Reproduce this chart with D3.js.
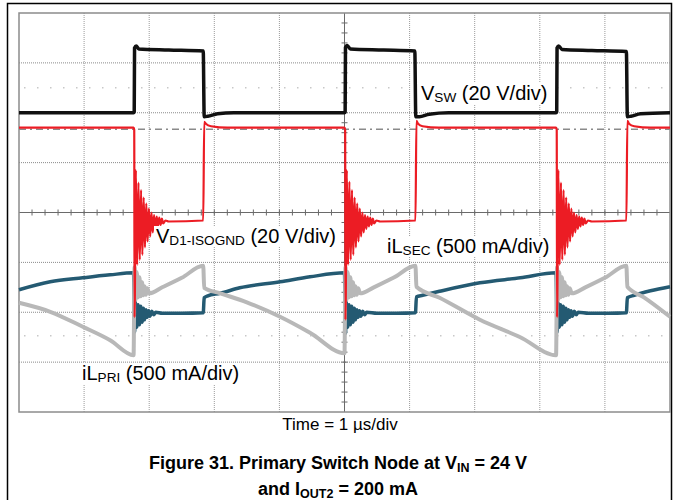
<!DOCTYPE html>
<html><head><meta charset="utf-8">
<script src="https://cdn.jsdelivr.net/npm/d3@7"></script>
<style>
html,body{margin:0;padding:0;background:#fff;}
svg{display:block;font-family:"Liberation Sans",Arial,sans-serif;}
</style></head>
<body>
<svg id="c" width="673" height="500"></svg>
<script>
// ---- data (time in divisions 0..10, amplitude in divisions -4..4) ----
const xDivisions = d3.range(0, 11);
const yDivisions = d3.range(-4, 5);

// V_SW (20 V/div)
const vswTrace = [
  [0,2.0],[1.76,2.0],[1.77,2.02],[1.775,3.30],[1.80,3.34],[1.84,3.28],[2.3,3.26],[2.83,3.24],
  [2.845,1.92],[2.9,1.93],[3.05,1.98],[3.3,2.0],[5.0,2.0],[5.01,2.02],[5.015,3.31],[5.04,3.35],
  [5.09,3.28],[5.6,3.26],[6.08,3.24],[6.095,1.92],[6.15,1.92],[6.3,1.97],[6.6,2.0],[8.25,2.0],
  [8.26,2.02],[8.265,3.30],[8.29,3.34],[8.34,3.27],[8.8,3.25],[9.33,3.23],[9.345,1.92],[9.4,1.93],
  [9.55,1.98],[10,2.0]
];

// V_D1-ISOGND (20 V/div)
const vd1Trace = [
  [0,1.70],[1.76,1.70],[1.77,1.66],[1.775,-2.1],[1.795,0.85],[1.815,-1.05],[1.835,0.6],[1.855,-0.95],
  [1.875,0.45],[1.895,-0.85],[1.915,0.3],[1.935,-0.7],[1.955,0.18],[1.975,-0.58],[1.995,0.08],[2.015,-0.48],
  [2.035,0.0],[2.055,-0.4],[2.075,-0.05],[2.095,-0.33],[2.115,-0.08],[2.135,-0.28],[2.155,-0.1],[2.175,-0.25],
  [2.195,-0.12],[2.215,-0.22],[2.25,-0.16],[2.3,-0.18],[2.83,-0.16],[2.845,1.82],[2.87,1.78],[2.95,1.73],[3.2,1.70],
  [5.0,1.70],[5.01,1.66],[5.015,-2.15],[5.035,0.85],[5.055,-1.05],[5.075,0.62],[5.095,-0.95],[5.115,0.45],
  [5.135,-0.85],[5.155,0.3],[5.175,-0.7],[5.195,0.18],[5.215,-0.58],[5.235,0.08],[5.255,-0.48],[5.275,0.0],
  [5.295,-0.4],[5.315,-0.05],[5.335,-0.33],[5.355,-0.08],[5.375,-0.28],[5.395,-0.1],[5.415,-0.25],[5.435,-0.12],
  [5.455,-0.22],[5.49,-0.16],[5.55,-0.18],[6.09,-0.16],[6.105,1.84],[6.13,1.78],[6.2,1.73],[6.45,1.70],
  [8.25,1.70],[8.26,1.66],[8.265,-2.1],[8.285,0.85],[8.305,-1.05],[8.325,0.6],[8.345,-0.95],[8.365,0.45],
  [8.385,-0.85],[8.405,0.3],[8.425,-0.7],[8.445,0.18],[8.465,-0.58],[8.485,0.08],[8.505,-0.48],[8.525,0.0],
  [8.545,-0.4],[8.565,-0.05],[8.585,-0.33],[8.605,-0.08],[8.625,-0.28],[8.645,-0.1],[8.665,-0.25],[8.685,-0.12],
  [8.705,-0.22],[8.74,-0.16],[8.8,-0.18],[9.33,-0.16],[9.345,1.84],[9.37,1.78],[9.45,1.73],[9.7,1.70],[10,1.70]
];

// iL_SEC (500 mA/div)
const ilSecTrace = [
  [0,-1.55],[0.48,-1.39],[0.98,-1.31],[1.4,-1.25],[1.76,-1.21],
  [1.775,-2.4],[1.79,-1.8],[1.81,-2.3],[1.83,-1.85],[1.85,-2.25],[1.87,-1.88],[1.89,-2.2],[1.91,-1.92],
  [1.93,-2.15],[1.95,-1.95],[1.97,-2.1],[1.99,-1.97],[2.01,-2.08],[2.04,-1.98],[2.07,-2.05],[2.1,-2.0],
  [2.2,-2.02],[2.5,-2.02],[2.83,-2.01],
  [2.845,-1.71],[2.9,-1.67],[3.09,-1.62],[3.39,-1.51],[4.01,-1.39],[4.47,-1.29],[5.0,-1.21],
  [5.015,-2.42],[5.03,-1.8],[5.05,-2.3],[5.07,-1.85],[5.09,-2.25],[5.11,-1.88],[5.13,-2.2],[5.15,-1.92],
  [5.17,-2.15],[5.19,-1.95],[5.21,-2.1],[5.23,-1.97],[5.25,-2.08],[5.28,-1.98],[5.31,-2.05],[5.34,-2.0],
  [5.5,-2.02],[5.8,-2.02],[6.09,-2.01],
  [6.105,-1.69],[6.2,-1.66],[6.46,-1.58],[7.08,-1.41],[7.70,-1.31],[8.25,-1.21],
  [8.265,-2.4],[8.28,-1.8],[8.30,-2.3],[8.32,-1.85],[8.34,-2.25],[8.36,-1.88],[8.38,-2.2],[8.40,-1.92],
  [8.42,-2.15],[8.44,-1.95],[8.46,-2.1],[8.48,-1.97],[8.50,-2.08],[8.53,-1.98],[8.56,-2.05],[8.59,-2.0],
  [8.75,-2.02],[9.05,-2.02],[9.33,-2.01],
  [9.345,-1.71],[9.45,-1.66],[9.7,-1.57],[10,-1.49]
];

// iL_PRI (500 mA/div)
const ilPriTrace = [
  [0,-1.81],[0.48,-1.99],[0.98,-2.29],[1.4,-2.56],[1.76,-2.86],
  [1.775,-1.1],[1.79,-1.75],[1.81,-1.2],[1.83,-1.7],[1.85,-1.3],[1.87,-1.68],[1.89,-1.4],[1.91,-1.66],
  [1.93,-1.48],[1.95,-1.65],[1.97,-1.52],[2.0,-1.62],[2.2,-1.50],[2.5,-1.31],[2.83,-1.07],
  [2.845,-1.51],[3.09,-1.62],[3.5,-1.8],[4.01,-2.09],[4.47,-2.41],[5.0,-2.82],
  [5.015,-1.1],[5.03,-1.75],[5.05,-1.2],[5.07,-1.7],[5.09,-1.3],[5.11,-1.68],[5.13,-1.4],[5.15,-1.66],
  [5.17,-1.48],[5.19,-1.65],[5.21,-1.52],[5.24,-1.62],[5.45,-1.50],[5.75,-1.31],[6.09,-1.07],
  [6.105,-1.49],[6.46,-1.71],[7.08,-2.15],[7.70,-2.5],[8.25,-2.86],
  [8.265,-1.1],[8.28,-1.75],[8.30,-1.2],[8.32,-1.7],[8.34,-1.3],[8.36,-1.68],[8.38,-1.4],[8.40,-1.66],
  [8.42,-1.48],[8.44,-1.65],[8.46,-1.52],[8.49,-1.62],[8.7,-1.50],[9.0,-1.31],[9.33,-1.07],
  [9.345,-1.49],[9.6,-1.7],[10,-2.09]
];

// reference markers (in divisions)
const channelRefLevel = 1.67;
const markerLevels = [2.5, -2.47];

// ---- layout ----
const svg = d3.select("#c");
const plot = {left:19, right:670, top:13, bottom:412};
const x = d3.scaleLinear().domain([0,10]).range([plot.left, plot.right]);
const y = d3.scaleLinear().domain([-4,4]).range([plot.bottom, plot.top]);

// outer frame
svg.append("path").attr("d", "M7.5,500 V3.5 H671.5 V500")
  .attr("fill","none").attr("stroke","#000").attr("stroke-width",1.5);

const g = svg.append("g");

// grid
g.selectAll("line.vg").data(xDivisions.filter(d=>d>0&&d<10&&d!==5)).join("line")
  .attr("x1",d=>x(d)).attr("x2",d=>x(d)).attr("y1",plot.top).attr("y2",plot.bottom)
  .attr("stroke","#9a9a9a").attr("stroke-width",1).attr("stroke-dasharray","1,1");
g.selectAll("line.hg").data(yDivisions.filter(d=>d>-4&&d<4&&d!==0)).join("line")
  .attr("y1",d=>y(d)).attr("y2",d=>y(d)).attr("x1",plot.left).attr("x2",plot.right)
  .attr("stroke","#8a8a8a").attr("stroke-width",1).attr("stroke-dasharray","1,1");

// marker dotted rows
g.selectAll("line.mk").data(markerLevels).join("line")
  .attr("y1",d=>y(d)).attr("y2",d=>y(d)).attr("x1",plot.left+5).attr("x2",plot.right)
  .attr("stroke","#c8c8c8").attr("stroke-width",1.5).attr("stroke-dasharray","1.5,11.5");

// channel reference dash-dot
g.append("line").attr("x1",plot.left).attr("x2",plot.right)
  .attr("y1",y(channelRefLevel)).attr("y2",y(channelRefLevel))
  .attr("stroke","#8a8a8a").attr("stroke-width",1.5).attr("stroke-dasharray","7,4,2,4");

// center axes
g.append("line").attr("x1",plot.left).attr("x2",plot.right).attr("y1",y(0)).attr("y2",y(0))
  .attr("stroke","#6a6a6a").attr("stroke-width",1);
g.append("line").attr("y1",plot.top).attr("y2",plot.bottom).attr("x1",x(5)).attr("x2",x(5))
  .attr("stroke","#6a6a6a").attr("stroke-width",1);
const minorX = d3.range(0, 50).map(i=>i*0.2).filter(v=>v>0);
const minorY = d3.range(-19, 20).map(i=>i*0.2);
g.selectAll("line.tx").data(minorX).join("line")
  .attr("x1",d=>x(d)).attr("x2",d=>x(d)).attr("y1",y(0)-3).attr("y2",y(0)+3)
  .attr("stroke","#6a6a6a").attr("stroke-width",1);
g.selectAll("line.ty").data(minorY).join("line")
  .attr("y1",d=>y(d)).attr("y2",d=>y(d)).attr("x1",x(5)-3).attr("x2",x(5)+3)
  .attr("stroke","#6a6a6a").attr("stroke-width",1);

// plot border
g.append("rect").attr("x",plot.left).attr("y",plot.top)
  .attr("width",plot.right-plot.left).attr("height",plot.bottom-plot.top)
  .attr("fill","none").attr("stroke","#8c8c8c").attr("stroke-width",1.5);

// traces
const line = d3.line().x(d=>x(d[0])).y(d=>y(d[1])).curve(d3.curveMonotoneX);
const traces = [
  {data: ilSecTrace, color:"#245a72", w:3.5},
  {data: ilPriTrace, color:"#b8b8b8", w:4},
  {data: vd1Trace,   color:"#ec1c24", w:2.2},
  {data: vswTrace,   color:"#111111", w:3.5}
];
traces.forEach(t=>{
  g.append("path").datum(t.data).attr("d", line)
    .attr("fill","none").attr("stroke", t.color).attr("stroke-width", t.w)
    .attr("stroke-linejoin","round");
});

// labels with white background
function label(xp, yp, main, sub, rest, size){
  const grp = svg.append("g");
  const txt = grp.append("text").attr("x",xp).attr("y",yp).attr("font-size",size).attr("fill","#000");
  txt.append("tspan").text(main);
  txt.append("tspan").attr("font-size",size*0.68).attr("dy",2).text(sub);
  txt.append("tspan").attr("dy",-2).text(rest);
  const b = txt.node().getBBox();
  grp.insert("rect","text").attr("x",b.x-2).attr("y",b.y+1).attr("width",b.width+4).attr("height",b.height-2)
    .attr("fill","#fff");
}
label(421, 100, "V", "SW", " (20 V/div)", 20);
label(156, 243, "V", "D1-ISOGND", " (20 V/div)", 20);
label(387, 253, "iL", "SEC", " (500 mA/div)", 20);
label(82, 380, "iL", "PRI", " (500 mA/div)", 20);

// axis title
svg.append("text").attr("x",340).attr("y",430).attr("text-anchor","middle")
  .attr("font-size",17).text("Time = 1 µs/div");

// caption
function cap(yp, parts){
  const t = svg.append("text").attr("x",338).attr("y",yp).attr("text-anchor","middle")
    .attr("font-size",18).attr("font-weight","bold");
  parts.forEach(p=>{
    const s = t.append("tspan").text(p.t);
    if(p.sub) s.attr("font-size",12.5).attr("dy",3);
    if(p.back) s.attr("dy",-3);
  });
}
cap(469, [{t:"Figure 31. Primary Switch Node at V"},{t:"IN",sub:true},{t:" = 24 V",back:true}]);
cap(495, [{t:"and I"},{t:"OUT2",sub:true},{t:" = 200 mA",back:true}]);
</script>
</body></html>
